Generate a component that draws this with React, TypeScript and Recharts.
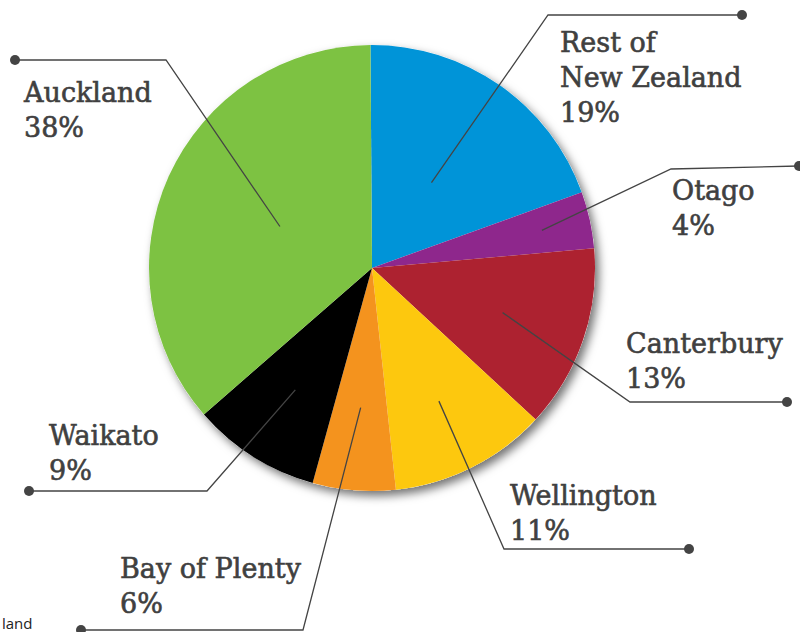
import React from "react";
import { PieChart, Pie, Cell } from "recharts";

// Regions (clockwise from 12 o'clock)
const regions: string[] = [
  "Rest of\nNew Zealand",
  "Otago",
  "Canterbury",
  "Wellington",
  "Bay of Plenty",
  "Waikato",
  "Auckland",
];
// Slice sizes as drawn in the picture (percent)
const sliceValues: number[] = [19.6, 4.1, 13.3, 11.4, 6.0, 9.3, 36.3];
// Percentages printed in the labels
const labelPercents: number[] = [19, 4, 13, 11, 6, 9, 38];
const sliceColors: string[] = [
  "#0094D8",
  "#8E278C",
  "#AD2230",
  "#FDC80E",
  "#F4931E",
  "#000000",
  "#7DC242",
];

// Layout of leader lines and label text (chart pixel space)
const leaderLayout = [
  { startR: 104, elbow: [548, 15], end: [742, 15], text: [560, 52] },
  { startR: 174, elbow: [671, 169], end: [799, 166], text: [672, 200] },
  { startR: 138, elbow: [630, 402], end: [787, 402], text: [626, 353] },
  { startR: 149, elbow: [504, 549], end: [689, 549], text: [510, 505] },
  { startR: 140, elbow: [303, 630], end: [81, 630], text: [120, 578] },
  { startR: 144, elbow: [207, 491], end: [29, 491], text: [49, 445] },
  { startR: 101, elbow: [166, 60], end: [15, 60], text: [24, 102] },
];

const data = regions.map((name, i) => ({
  name,
  value: sliceValues[i],
  pct: labelPercents[i],
}));
const shadowData = [{ name: "all", value: sliceValues.reduce((a, b) => a + b, 0) }];

const RADIAN = Math.PI / 180;
const TEXT_COLOR = "#404040";
const LINE_HEIGHT = 35;

const renderLabel = (props: any) => {
  const { cx, cy, midAngle, index } = props;
  const L = leaderLayout[index];
  const sx = cx + L.startR * Math.cos(-midAngle * RADIAN);
  const sy = cy + L.startR * Math.sin(-midAngle * RADIAN);
  const lines = [...data[index].name.split("\n"), `${data[index].pct}%`];
  return (
    <g key={`lbl-${index}`}>
      <polyline
        points={`${sx},${sy} ${L.elbow[0]},${L.elbow[1]} ${L.end[0]},${L.end[1]}`}
        fill="none"
        stroke="#444"
        strokeWidth={1.3}
      />
      <circle cx={L.end[0]} cy={L.end[1]} r={5} fill="#444" />
      <text
        x={L.text[0]}
        y={L.text[1]}
        fill={TEXT_COLOR}
        fontFamily="'DejaVu Serif', serif"
        fontSize={27}
        stroke={TEXT_COLOR}
        strokeWidth={0.6}
      >
        {lines.map((ln, k) => (
          <tspan key={k} x={L.text[0]} y={L.text[1] + k * LINE_HEIGHT}>
            {ln}
          </tspan>
        ))}
      </text>
    </g>
  );
};

export default function App() {
  return (
    <div style={{ position: "absolute", left: 0, top: 0, width: 800, height: 632, background: "#fff", overflow: "hidden" }}>
      <svg width={0} height={0} style={{ position: "absolute" }}>
        <defs>
          <filter id="pieShadow" x="-20%" y="-20%" width="140%" height="140%">
            <feDropShadow dx={4} dy={5} stdDeviation={5} floodColor="#000" floodOpacity={0.55} />
          </filter>
        </defs>
      </svg>
      <PieChart width={800} height={632} margin={{ top: 0, right: 0, bottom: 0, left: 0 }}>
        <Pie
          data={shadowData}
          dataKey="value"
          cx={372}
          cy={268}
          outerRadius={223}
          startAngle={90}
          endAngle={-270}
          stroke="none"
          isAnimationActive={false}
          label={false}
          labelLine={false}
        >
          <Cell fill="#ffffff" filter="url(#pieShadow)" />
        </Pie>
        <Pie
          data={data}
          dataKey="value"
          nameKey="name"
          cx={372}
          cy={268}
          outerRadius={223}
          startAngle={90.4}
          endAngle={-269.6}
          stroke="none"
          isAnimationActive={false}
          labelLine={false}
          label={renderLabel}
        >
          {data.map((d, i) => (
            <Cell key={d.name} fill={sliceColors[i]} />
          ))}
        </Pie>
      </PieChart>
      <svg width={800} height={632} style={{ position: "absolute", left: 0, top: 0, pointerEvents: "none" }}>
        <text x={2} y={629} fill="#222" fontFamily="'Open Sans', sans-serif" fontSize={15}>
          land
        </text>
      </svg>
    </div>
  );
}
